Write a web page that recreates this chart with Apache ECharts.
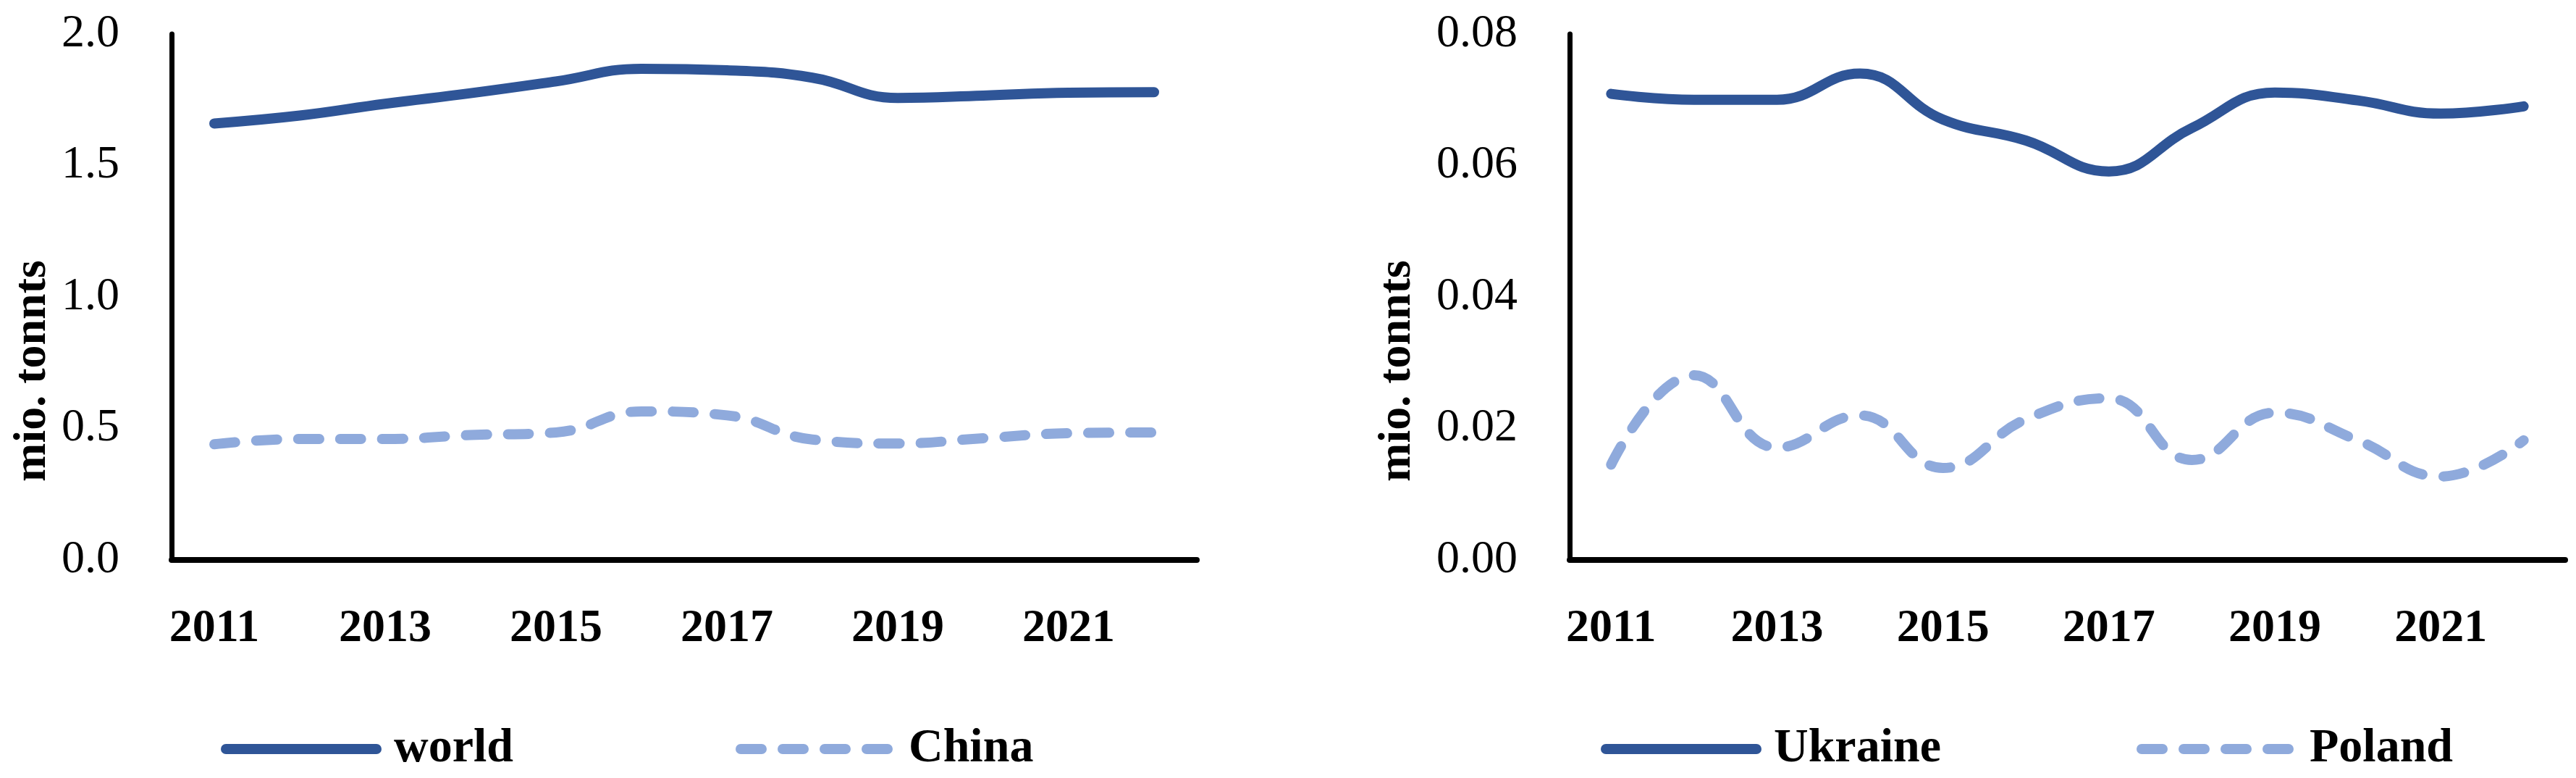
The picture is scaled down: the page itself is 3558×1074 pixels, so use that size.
<!DOCTYPE html>
<html>
<head>
<meta charset="utf-8">
<script src="https://cdn.jsdelivr.net/npm/echarts@6/dist/echarts.min.js"></script>
<style>
html,body{margin:0;padding:0;background:#fff;}
#c{width:3558px;height:1074px;}
</style>
</head>
<body>
<div id="c"></div>
<script>
var years = ['2011','2012','2013','2014','2015','2016','2017','2018','2019','2020','2021','2022'];
var world = [1.66, 1.69, 1.735, 1.775, 1.82, 1.868, 1.862, 1.834, 1.757, 1.766, 1.777, 1.779];
var china = [0.44, 0.46, 0.46, 0.475, 0.485, 0.565, 0.55, 0.458, 0.443, 0.463, 0.482, 0.485];
var ukraine = [0.0709, 0.0700, 0.0700, 0.0740, 0.0670, 0.0638, 0.0591, 0.0657, 0.0711, 0.0699, 0.0679, 0.0690];
var poland = [0.0145, 0.0281, 0.0171, 0.0220, 0.0140, 0.0214, 0.0246, 0.0152, 0.0224, 0.0182, 0.0127, 0.0182];
var leftTicks = {min: 0, max: 2.0, interval: 0.5, digits: 1};
var rightTicks = {min: 0, max: 0.08, interval: 0.02, digits: 2};
var yName = 'mio. tonnts';

var FONT = 'Liberation Serif';
var DARK = '#2F5597';
var LIGHT = '#8FAADC';

function xAxisOf(idx) {
  return {
    type: 'category', gridIndex: idx, data: years, boundaryGap: true,
    axisTick: {show: false},
    axisLine: {lineStyle: {color: '#000', width: 8}},
    axisLabel: {interval: 1, margin: 63, color: '#000', fontFamily: FONT, fontWeight: 'bold', fontSize: 64}
  };
}
function yAxisOf(idx, t, gap) {
  return {
    type: 'value', gridIndex: idx, min: t.min, max: t.max, interval: t.interval,
    name: yName, nameLocation: 'middle', nameGap: gap,
    nameTextStyle: {color: '#000', fontFamily: FONT, fontWeight: 'bold', fontSize: 64, padding: [0, 204, 0, 0]},
    splitLine: {show: false},
    axisTick: {show: false},
    axisLine: {show: true, lineStyle: {color: '#000', width: 7}},
    axisLabel: {margin: 72, color: '#000', fontFamily: FONT, fontSize: 64,
      formatter: function (v) { return v.toFixed(t.digits); }}
  };
}
function lineSeries(name, data, idx, color, dashed) {
  return {
    name: name, type: 'line', xAxisIndex: idx, yAxisIndex: idx, data: data,
    smooth: 0.45, symbol: 'none', showSymbol: false,
    lineStyle: {color: color, width: 14, cap: 'round', join: 'round', type: dashed ? [29, 29] : 'solid'},
    itemStyle: {color: color}
  };
}
function legendOf(name, left, color, dashed) {
  return {
    data: [name], left: left, top: 1001, padding: 0,
    itemWidth: 208, itemHeight: 14,
    itemStyle: {opacity: 0},
    lineStyle: {color: color, width: 14, cap: 'round', type: dashed ? [29, 29] : 'solid'},
    textStyle: {color: '#000', fontFamily: FONT, fontWeight: 'bold', fontSize: 66, padding: [0, 0, 0, 19]},
    selectedMode: false
  };
}

var chart = echarts.init(document.getElementById('c'));
chart.setOption({
  backgroundColor: '#fff',
  animation: false,
  grid: [
    {left: 237, top: 47, width: 1416, height: 726},
    {left: 2168, top: 47, width: 1375, height: 726}
  ],
  xAxis: [xAxisOf(0), xAxisOf(1)],
  yAxis: [yAxisOf(0, leftTicks, 160), yAxisOf(1, rightTicks, 206)],
  legend: [
    legendOf('world', 305, DARK, false), legendOf('China', 1016, LIGHT, true),
    legendOf('Ukraine', 2211, DARK, false), legendOf('Poland', 2951, LIGHT, true)
  ],
  series: [
    lineSeries('world', world, 0, DARK, false),
    lineSeries('China', china, 0, LIGHT, true),
    lineSeries('Ukraine', ukraine, 1, DARK, false),
    lineSeries('Poland', poland, 1, LIGHT, true)
  ]
});
</script>
</body>
</html>
